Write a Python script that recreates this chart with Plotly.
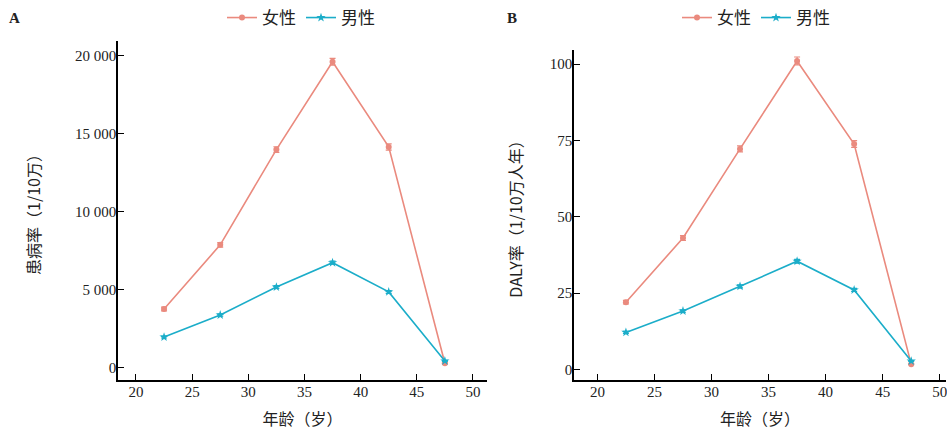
import plotly.graph_objects as go

ages = [22.5, 27.5, 32.5, 37.5, 42.5, 47.5]

prev_female = [3780, 7880, 13980, 19600, 14150, 300]
prev_female_err = [120, 150, 180, 220, 200, 40]
prev_male = [1980, 3390, 5180, 6740, 4870, 450]
prev_male_err = [60, 70, 90, 100, 90, 30]

daly_female = [22.0, 43.0, 72.2, 101.0, 73.8, 1.7]
daly_female_err = [0.6, 0.8, 1.0, 1.3, 1.1, 0.2]
daly_male = [12.1, 19.1, 27.2, 35.4, 26.0, 2.7]
daly_male_err = [0.3, 0.4, 0.5, 0.6, 0.5, 0.1]

x_ticks = [20, 25, 30, 35, 40, 45, 50]
prev_ticks = [0, 5000, 10000, 15000, 20000]
daly_ticks = [0, 25, 50, 75, 100]

F_COLOR = "#EA8A7E"
M_COLOR = "#1BADC9"
SERIF = "Liberation Serif, Times New Roman, serif"
CJK = "Noto Sans CJK SC, sans-serif"

fig = go.Figure()

def add_pair(xa, ya, fy, fe, my, me, legend):
    fig.add_trace(go.Scatter(
        x=ages, y=fy, name="女性", mode="lines+markers",
        line=dict(color=F_COLOR, width=1.6),
        marker=dict(symbol="circle", size=6, color=F_COLOR),
        error_y=dict(type="data", array=fe, color=F_COLOR, thickness=1.2, width=3),
        xaxis=xa, yaxis=ya, legend=legend,
    ))
    fig.add_trace(go.Scatter(
        x=ages, y=my, name="男性", mode="lines+markers",
        line=dict(color=M_COLOR, width=1.6),
        marker=dict(symbol="star", size=7, color=M_COLOR),
        error_y=dict(type="data", array=me, color=M_COLOR, thickness=1.2, width=3),
        xaxis=xa, yaxis=ya, legend=legend,
    ))

add_pair("x", "y", prev_female, prev_female_err, prev_male, prev_male_err, "legend")
add_pair("x2", "y2", daly_female, daly_female_err, daly_male, daly_male_err, "legend2")

W, H = 947, 430
def px_x(p):
    return p / W
def px_y(p):
    return 1 - p / H

axis_common = dict(
    showline=True, linecolor="black", linewidth=1.5,
    ticks="inside", ticklen=6, tickwidth=1.3, tickcolor="black",
    showgrid=False, zeroline=False, mirror=False, automargin=False,
    ticklabeloverflow="allow",
    tickfont=dict(family=SERIF, size=15, color="#222"),
)
title_font = dict(family=CJK, size=16, color="#222")

fig.update_layout(
    width=W, height=H,
    margin=dict(l=0, r=0, t=0, b=0, autoexpand=False),
    paper_bgcolor="white", plot_bgcolor="white",
    separators=". ",
    xaxis=dict(domain=[px_x(118), px_x(487)], range=[18.4, 51.25], tickvals=x_ticks,
               anchor="y", ticklabelstandoff=-3,
               title=dict(text="年龄（岁）", font=title_font, standoff=18),
               **axis_common),
    yaxis=dict(domain=[px_y(380), px_y(41)], range=[-770, 20930], tickvals=prev_ticks,
               tickformat=",d", separatethousands=True, anchor="x", ticklabelstandoff=-3,
               title=dict(text="患病率（1/10万）", font=title_font, standoff=30),
               **axis_common),
    xaxis2=dict(domain=[px_x(574), px_x(946)], range=[17.95, 50.55], tickvals=x_ticks,
                anchor="y2", ticklabelstandoff=-3,
                title=dict(text="年龄（岁）", font=title_font, standoff=18),
                **axis_common),
    yaxis2=dict(domain=[px_y(380), px_y(50)], range=[-3.5, 104.6], tickvals=daly_ticks,
                anchor="x2", ticklabelstandoff=-3,
                title=dict(text="DALY率（1/10万人年）", font=title_font, standoff=23),
                **axis_common),
    legend=dict(orientation="h", x=px_x(301), y=px_y(18), xanchor="center", yanchor="middle",
                font=dict(family=CJK, size=17, color="#222"), bgcolor="rgba(0,0,0,0)",
                itemwidth=30, tracegroupgap=0),
    legend2=dict(orientation="h", x=px_x(756), y=px_y(18), xanchor="center", yanchor="middle",
                 font=dict(family=CJK, size=17, color="#222"), bgcolor="rgba(0,0,0,0)",
                 itemwidth=30, tracegroupgap=0),
    annotations=[
        dict(text="<b>A</b>", x=px_x(15), y=px_y(18), xref="paper", yref="paper",
             xanchor="center", yanchor="middle",
             showarrow=False, font=dict(family=SERIF, size=15, color="#222")),
        dict(text="<b>B</b>", x=px_x(512), y=px_y(18), xref="paper", yref="paper",
             xanchor="center", yanchor="middle",
             showarrow=False, font=dict(family=SERIF, size=15, color="#222")),
    ],
)

fig.write_html("out.html", config={"displayModeBar": False},
               post_script="document.body.style.margin='0px';")
